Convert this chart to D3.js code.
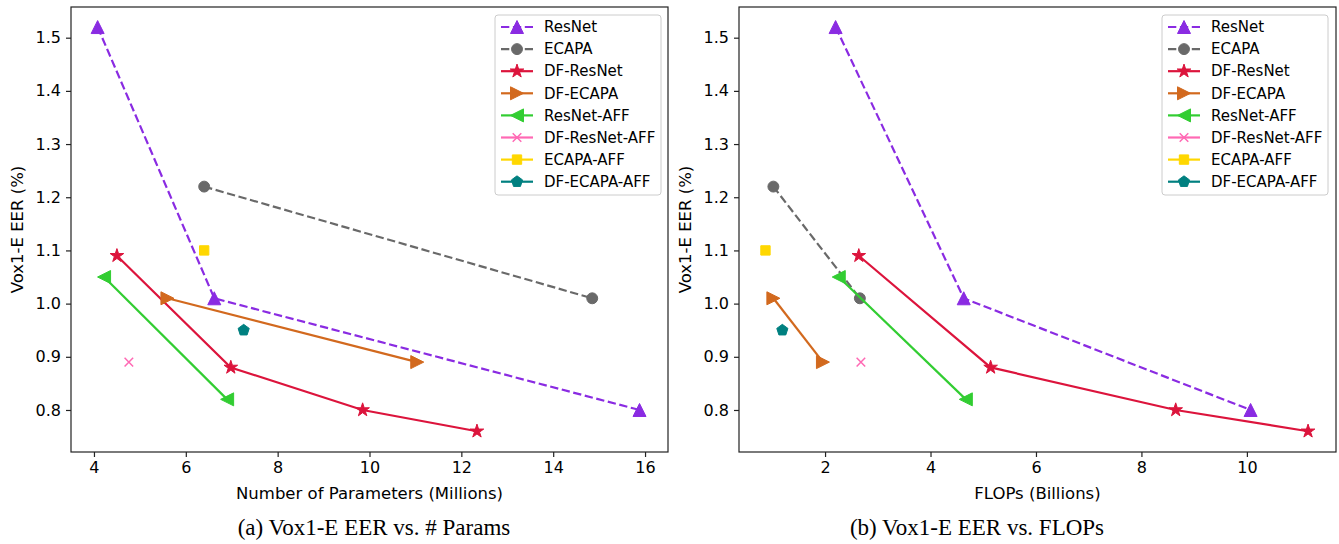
<!DOCTYPE html>
<html>
<head>
<meta charset="utf-8">
<script src="https://cdn.jsdelivr.net/npm/d3@7"></script>
<style>
  body { margin: 0; background: #fff; }
  svg text { font-family: "DejaVu Sans", sans-serif; fill: #000; }
  .caption { font-family: "Liberation Serif", "Times New Roman", serif; font-size: 23px; }
</style>
</head>
<body>
<svg id="main" width="1339" height="544"></svg>
<script>
// series info
const names = ["ResNet", "ECAPA", "DF-ResNet", "DF-ECAPA", "ResNet-AFF", "DF-ResNet-AFF", "ECAPA-AFF", "DF-ECAPA-AFF"];
const colors = ["#8a2be2", "#696969", "#dc143c", "#d2691e", "#32cd32", "#ff69b4", "#ffd700", "#008080"];
const shapes = ["up", "circle", "star", "right", "left", "x", "square", "pentagon"];
const dashed = [true, true, false, false, false, false, false, false];

// EER values (same for both panels)
const eer = [
  [1.52, 1.01, 0.80],
  [1.22, 1.01],
  [1.09, 0.88, 0.80, 0.76],
  [1.01, 0.89],
  [1.05, 0.82],
  [0.89],
  [1.10],
  [0.95]
];
// params (millions)
const params = [
  [4.08, 6.62, 15.88],
  [6.4, 14.85],
  [4.5, 6.98, 9.85, 12.34],
  [5.6, 11.04],
  [4.22, 6.9],
  [4.76],
  [6.4],
  [7.26]
];
// FLOPs (billions)
const flops = [
  [2.2, 4.63, 10.07],
  [1.02, 2.66],
  [2.64, 5.14, 8.65, 11.16],
  [1.02, 1.96],
  [2.26, 4.67],
  [2.68],
  [0.87],
  [1.19]
];

const yTicks = [0.8, 0.9, 1.0, 1.1, 1.2, 1.3, 1.4, 1.5];
const paramTicks = [4, 6, 8, 10, 12, 14, 16];
const flopTicks = [2, 4, 6, 8, 10];

const svg = d3.select("#main");

function markerPath(type, s) {
  const p = d3.path();
  if (type == "circle") {
    p.arc(0, 0, s * 0.42, 0, 2 * Math.PI);
  } else if (type == "square") {
    const h = s * 0.36;
    p.rect(-h, -h, 2 * h, 2 * h);
  } else if (type == "up" || type == "left" || type == "right") {
    const h = s * 0.5;
    let pts = [[0, -h], [-h, h], [h, h]];
    const rot = type == "up" ? 0 : (type == "right" ? Math.PI / 2 : -Math.PI / 2);
    pts = pts.map(([x, y]) => [x * Math.cos(rot) - y * Math.sin(rot), x * Math.sin(rot) + y * Math.cos(rot)]);
    p.moveTo(...pts[0]); p.lineTo(...pts[1]); p.lineTo(...pts[2]); p.closePath();
  } else if (type == "star") {
    const ro = s * 0.55, ri = ro * 0.38;
    for (let i = 0; i < 10; i++) {
      const r = i % 2 ? ri : ro;
      const a = -Math.PI / 2 + i * Math.PI / 5;
      if (i == 0) p.moveTo(r * Math.cos(a), r * Math.sin(a));
      else p.lineTo(r * Math.cos(a), r * Math.sin(a));
    }
    p.closePath();
  } else if (type == "pentagon") {
    const r = s * 0.45;
    for (let i = 0; i < 5; i++) {
      const a = -Math.PI / 2 + i * 2 * Math.PI / 5;
      if (i == 0) p.moveTo(r * Math.cos(a), r * Math.sin(a));
      else p.lineTo(r * Math.cos(a), r * Math.sin(a));
    }
    p.closePath();
  } else if (type == "x") {
    const h = s * 0.33;
    p.moveTo(-h, -h); p.lineTo(h, h);
    p.moveTo(-h, h); p.lineTo(h, -h);
  }
  return p.toString();
}

function drawMarker(g, type, color, x, y, s) {
  const m = g.append("path")
    .attr("d", markerPath(type, s))
    .attr("transform", `translate(${x},${y})`);
  if (type == "x") m.attr("fill", "none").attr("stroke", color).attr("stroke-width", 1.5);
  else m.attr("fill", color).attr("stroke", color).attr("stroke-width", 1);
}

function drawPanel(cfg) {
  const g = svg.append("g");
  const x = d3.scaleLinear().domain(cfg.xDomain).range([cfg.left, cfg.right]);
  const y = d3.scaleLinear().domain([0.721, 1.5577]).range([452, 7]);

  const xAxis = d3.axisBottom(x).tickValues(cfg.ticks).tickFormat(d3.format("d")).tickSize(5).tickPadding(5);
  const yAxis = d3.axisLeft(y).tickValues(yTicks).tickFormat(d3.format(".1f")).tickSize(5).tickPadding(5);

  // series lines & markers
  names.forEach((name, i) => {
    const pts = cfg.xs[i].map((v, j) => [x(v), y(eer[i][j])]);
    if (pts.length > 1) {
      g.append("path")
        .attr("d", d3.line()(pts))
        .attr("fill", "none")
        .attr("stroke", colors[i])
        .attr("stroke-width", 2.2)
        .attr("stroke-dasharray", dashed[i] ? "8.3,3.6" : null);
    }
    pts.forEach(p => drawMarker(g, shapes[i], colors[i], p[0], p[1], 13));
  });

  g.append("rect")
    .attr("x", cfg.left).attr("y", 7)
    .attr("width", cfg.right - cfg.left).attr("height", 445)
    .attr("fill", "none").attr("stroke", "#222").attr("stroke-width", 1.2);

  const ax = g.append("g").attr("transform", `translate(0,452)`).call(xAxis);
  const ay = g.append("g").attr("transform", `translate(${cfg.left},0)`).call(yAxis);
  [ax, ay].forEach(a => {
    a.select(".domain").remove();
    a.selectAll("line").attr("stroke", "#222").attr("stroke-width", 1.2);
    a.selectAll("text").attr("font-size", 16).attr("font-family", "DejaVu Sans").attr("fill", "#000");
  });

  // axis labels
  g.append("text")
    .attr("x", (cfg.left + cfg.right) / 2).attr("y", 499)
    .attr("text-anchor", "middle").attr("font-size", 16.5)
    .text(cfg.xLabel);
  g.append("text")
    .attr("transform", `translate(${cfg.left - 48},${229.5}) rotate(-90)`)
    .attr("text-anchor", "middle").attr("font-size", 16.5)
    .text("Vox1-E EER (%)");

  // caption
  g.append("text").attr("class", "caption")
    .attr("x", cfg.captionX).attr("y", 535)
    .attr("text-anchor", "middle")
    .text(cfg.caption);

  // legend
  const lg = g.append("g").attr("transform", `translate(${cfg.legendX},15)`);
  lg.append("rect")
    .attr("x", 0).attr("y", 0).attr("width", 166).attr("height", 180)
    .attr("rx", 3).attr("fill", "#fff").attr("fill-opacity", 0.8)
    .attr("stroke", "#cccccc").attr("stroke-width", 1);
  names.forEach((name, i) => {
    const yy = 12 + i * 22.1;
    lg.append("line")
      .attr("x1", 6).attr("x2", 38).attr("y1", yy).attr("y2", yy)
      .attr("stroke", colors[i]).attr("stroke-width", 2.2)
      .attr("stroke-dasharray", dashed[i] ? "8.3,3.6" : null);
    drawMarker(lg, shapes[i], colors[i], 22, yy, 13);
    lg.append("text")
      .attr("x", 49).attr("y", yy).attr("dy", "0.35em")
      .attr("font-size", 15)
      .text(name);
  });
}

drawPanel({
  xs: params, xDomain: [3.5, 16.5], left: 71, right: 668, ticks: paramTicks,
  xLabel: "Number of Parameters (Millions)", caption: "(a) Vox1-E EER vs. # Params", legendX: 495,
  captionX: 374
});
drawPanel({
  xs: flops, xDomain: [0.368, 11.69], left: 739, right: 1336, ticks: flopTicks,
  xLabel: "FLOPs (Billions)", caption: "(b) Vox1-E EER vs. FLOPs", legendX: 1162,
  captionX: 977
});
</script>
</body>
</html>
